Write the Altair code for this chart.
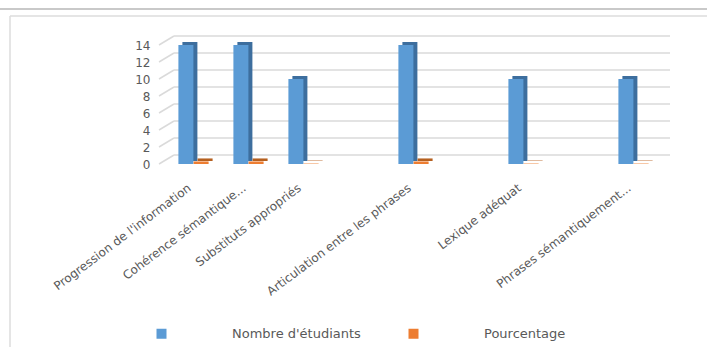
import altair as alt
import pandas as pd

# Criteria on the x axis (blank slots are empty category positions)
CATEGORIES = [
    "Progression de l'information",
    "Cohérence sémantique...",
    "Substituts appropriés",
    "",
    "Articulation entre les phrases",
    "",
    "Lexique adéquat",
    "",
    "Phrases sémantiquement...",
]
NOMBRE = [14, 14, 10, None, 14, None, 10, None, 10]
POURCENTAGE = [0.3, 0.3, 0.05, None, 0.3, None, 0.05, None, 0.05]
SERIES = ["Nombre d'étudiants", "Pourcentage"]
Y_TICKS = [0, 2, 4, 6, 8, 10, 12, 14]

FRONT = ["#5B9BD5", "#ED7D31"]
SIDE = ["#3D6E9E", "#B5601F"]
FONT = "DejaVu Sans"
GREY = "#595959"

rows = []
for i, cat in enumerate(CATEGORIES):
    for serie, values in zip(SERIES, [NOMBRE, POURCENTAGE]):
        if values[i] is not None:
            rows.append({"idx": i, "serie": serie, "valeur": values[i]})
df = pd.DataFrame(rows)

W, H = 495, 119
LEFT, TOP = 166, 45

label_expr = "[" + ",".join('"' + c.replace('"', '\\"') + '"' for c in CATEGORIES) + "][datum.value]"

x_enc = alt.X(
    "idx:O",
    scale=alt.Scale(domain=list(range(len(CATEGORIES))), paddingInner=0.45, paddingOuter=0.225),
    axis=alt.Axis(
        title=None, labelExpr=label_expr, labelAngle=-37, labelAlign="right",
        labelBaseline="middle", labelPadding=22, labelOffset=-4, domain=False, ticks=False,
        labelFont=FONT, labelFontSize=12, labelColor=GREY, labelLimit=300,
    ),
)
y_scale = alt.Scale(domain=[0, 14], nice=False)
y_axis = alt.Axis(
    title=None, values=Y_TICKS, grid=False, domain=False, ticks=False,
    labelPadding=16, labelFont=FONT, labelFontSize=12, labelColor=GREY,
)

base = alt.Chart(df)

# back wall gridlines, pushed back in depth; this layer also carries the value axis
grid_df = pd.DataFrame({"t": Y_TICKS})
grid = alt.Chart(grid_df).mark_rule(color="#dadada", strokeWidth=1.5, yOffset=-9).encode(
    x=alt.value(8), x2=alt.value(504), y=alt.Y("t:Q", scale=y_scale, axis=y_axis)
)
grid_diag = alt.Chart(grid_df).mark_rule(color="#dadada", strokeWidth=1.5, y2Offset=-9).encode(
    x=alt.value(-7), x2=alt.value(8),
    y=alt.Y("t:Q", scale=y_scale, axis=y_axis), y2="t:Q",
)

layers = [grid, grid_diag]
offsets = [-7.6, 7.6]
for k, serie in enumerate(SERIES):
    sub = base.transform_filter(alt.datum.serie == serie)
    y_enc = alt.Y("valeur:Q", scale=y_scale, axis=y_axis)
    side = sub.mark_bar(width=15, xOffset=offsets[k] + 4, yOffset=-3, color=SIDE[k]).encode(
        x=x_enc, y=y_enc
    )
    front = sub.mark_bar(width=15, xOffset=offsets[k]).encode(
        x=x_enc, y=y_enc,
        color=alt.Color(
            "serie:N",
            scale=alt.Scale(domain=SERIES, range=FRONT),
            legend=alt.Legend(
                title=None, orient="none", legendX=-11, legendY=282, direction="horizontal",
                symbolType="square", symbolSize=100, symbolStrokeWidth=0,
                labelOffset=64, columnPadding=46, labelFont=FONT, labelFontSize=13,
                labelColor=GREY,
            ),
        ),
    )
    layers += [side, front]

frame_data = alt.Data(values=[{}])
page_line = alt.Chart(frame_data).mark_rule(color="#c9c9c9", strokeWidth=2).encode(
    x=alt.value(-LEFT), x2=alt.value(707 - LEFT), y=alt.value(9 - TOP)
)
box_top = alt.Chart(frame_data).mark_rule(color="#dcdcdc", strokeWidth=1.5).encode(
    x=alt.value(10 - LEFT), x2=alt.value(707 - LEFT), y=alt.value(16 - TOP)
)
box_left = alt.Chart(frame_data).mark_rule(color="#dcdcdc", strokeWidth=1.5).encode(
    x=alt.value(10 - LEFT), y=alt.value(16 - TOP), y2=alt.value(347 - TOP)
)

chart = alt.layer(page_line, box_top, box_left, *layers).properties(
    width=W, height=H,
    autosize=alt.AutoSizeParams(type="none"),
    padding={"left": LEFT, "top": TOP, "right": 707 - LEFT - W, "bottom": 347 - TOP - H},
    background="white",
).configure_view(stroke=None)

chart.save("out.html", embed_options={"renderer": "svg", "actions": False})
